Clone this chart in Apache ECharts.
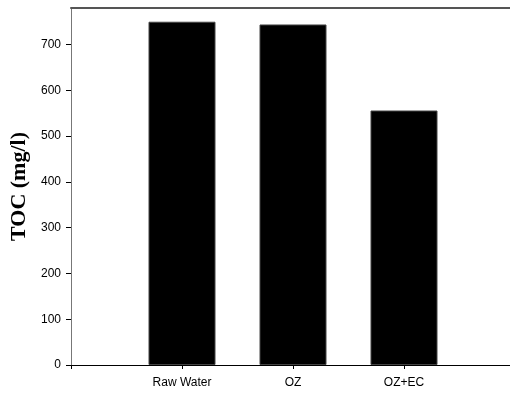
<!DOCTYPE html>
<html>
<head>
<meta charset="utf-8">
<script src="https://cdn.jsdelivr.net/npm/echarts@6/dist/echarts.min.js"></script>
<style>html,body{margin:0;padding:0;background:#fff}#c{width:510px;height:393px}</style>
</head>
<body>
<div id="c"></div>
<script>
var categories = ['Raw Water', 'OZ', 'OZ+EC'];
var tocValues = [750, 744, 556];
var yTicks = [0, 100, 200, 300, 400, 500, 600, 700];

var chart = echarts.init(document.getElementById('c'), null, {renderer: 'canvas'});
chart.setOption({
  animation: false,
  backgroundColor: '#fff',
  grid: {left: 71, right: -5, top: 8, bottom: 28, outerBoundsMode: 'none', containLabel: false},
  xAxis: [{
    type: 'value', min: -1, max: 3, interval: 1,
    splitLine: {show: false},
    axisLine: {show: true, onZero: false, lineStyle: {color: '#000', width: 1}},
    axisTick: {show: true, inside: false, length: 4, lineStyle: {color: '#000', width: 1}},
    axisLabel: {
      margin: 12, color: '#000', fontFamily: 'Liberation Sans', fontSize: 12,
      formatter: function (v) { var i = Math.round(v); return (i >= 0 && i < categories.length) ? categories[i] : ''; }
    },
    z: 10
  }, {
    type: 'value', position: 'top', min: -1, max: 3,
    splitLine: {show: false},
    axisLine: {show: true, onZero: false, lineStyle: {color: '#555', width: 2}},
    axisTick: {show: false}, axisLabel: {show: false}
  }],
  yAxis: {
    type: 'value', min: 0, max: 780, interval: 100,
    name: 'TOC (mg/l)', nameLocation: 'middle', nameGap: 40, nameRotate: 90,
    nameTextStyle: {fontFamily: 'Liberation Serif', fontWeight: 'bold', fontSize: 22, color: '#000'},
    splitLine: {show: false},
    axisLine: {show: true, onZero: false, lineStyle: {color: '#777', width: 1}},
    axisTick: {show: true, length: 5, lineStyle: {color: '#000'}},
    axisLabel: {
      margin: 10, color: '#000', fontFamily: 'Liberation Sans', fontSize: 12,
      showMaxLabel: false,
      formatter: function (v) { return yTicks.indexOf(v) >= 0 ? String(v) : ''; }
    }
  },
  series: [{
    type: 'bar',
    barWidth: 67,
    data: tocValues.map(function (v, i) { return [i, v]; }),
    itemStyle: {color: '#000', borderColor: '#444', borderWidth: 1}
  }]
});
</script>
</body>
</html>
